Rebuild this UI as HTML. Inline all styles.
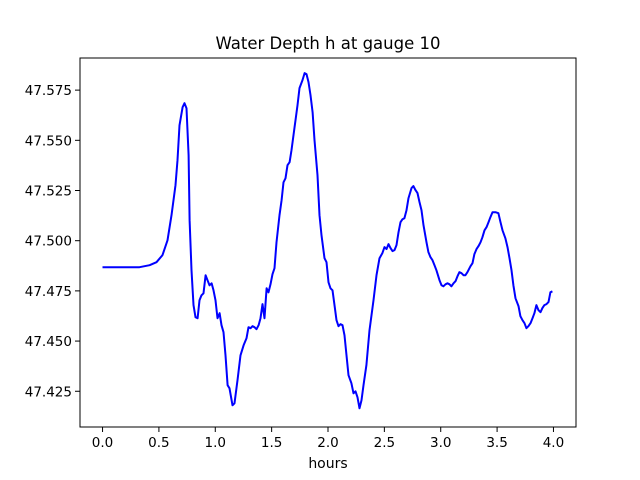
<!DOCTYPE html>
<html><head><meta charset="utf-8"><style>
body{margin:0;background:#fff;}
svg{display:block;font-family:"DejaVu Sans","Liberation Sans",sans-serif;}
</style></head><body>
<svg id="chart" width="640" height="480">
<rect width="640" height="480" fill="#fff"/>
<text x="328" y="49" text-anchor="middle" font-size="16.5">Water Depth h at gauge 10</text>
<g id="xticks"></g>
<g id="yticks"></g>
<path id="line" fill="none" stroke="#0000ff" stroke-width="2" stroke-linejoin="round"/>
<rect x="80" y="58" width="496" height="369" fill="none" stroke="#000" stroke-width="1"/>
<text x="328" y="468" text-anchor="middle" font-size="14">hours</text>
</svg>
<script>
const hours=[0,0.328,0.417,0.479,0.532,0.576,0.612,0.647,0.665,0.683,0.710,0.727,0.745,0.763,0.772,0.789,0.807,0.825,0.843,0.860,0.878,0.896,0.914,0.931,0.949,0.967,0.984,1.002,1.020,1.038,1.055,1.073,1.091,1.109,1.126,1.153,1.171,1.197,1.224,1.251,1.277,1.295,1.313,1.330,1.348,1.366,1.384,1.401,1.419,1.437,1.455,1.472,1.490,1.508,1.525,1.543,1.570,1.588,1.605,1.623,1.641,1.659,1.676,1.694,1.712,1.729,1.747,1.774,1.792,1.809,1.827,1.845,1.863,1.880,1.907,1.925,1.942,1.969,1.987,2.004,2.022,2.040,2.058,2.075,2.093,2.111,2.129,2.146,2.164,2.182,2.208,2.226,2.244,2.262,2.279,2.297,2.315,2.341,2.368,2.404,2.430,2.457,2.483,2.501,2.519,2.537,2.554,2.572,2.590,2.608,2.625,2.643,2.661,2.678,2.696,2.714,2.741,2.758,2.776,2.794,2.812,2.829,2.847,2.874,2.891,2.909,2.927,2.945,2.962,2.989,3.007,3.024,3.042,3.060,3.078,3.095,3.113,3.131,3.149,3.166,3.184,3.202,3.219,3.237,3.264,3.282,3.299,3.317,3.335,3.353,3.370,3.388,3.406,3.424,3.441,3.459,3.486,3.512,3.530,3.548,3.574,3.592,3.610,3.628,3.645,3.663,3.690,3.707,3.725,3.743,3.760,3.778,3.796,3.814,3.831,3.849,3.867,3.885,3.902,3.920,3.938,3.956,3.973,3.991];
const depth=[47.4868,47.4868,47.4878,47.4893,47.4928,47.5002,47.5127,47.5277,47.5401,47.5575,47.5665,47.5685,47.5660,47.5426,47.5102,47.4853,47.4679,47.4619,47.4614,47.4703,47.4728,47.4738,47.4828,47.4803,47.4778,47.4788,47.4753,47.4703,47.4614,47.4639,47.4579,47.4544,47.4429,47.4280,47.4265,47.4180,47.4190,47.4305,47.4429,47.4479,47.4514,47.4569,47.4564,47.4574,47.4569,47.4559,47.4579,47.4614,47.4684,47.4614,47.4763,47.4743,47.4783,47.4833,47.4863,47.4992,47.5127,47.5202,47.5291,47.5311,47.5376,47.5391,47.5451,47.5526,47.5600,47.5675,47.5760,47.5800,47.5835,47.5830,47.5790,47.5725,47.5640,47.5501,47.5326,47.5127,47.5027,47.4913,47.4893,47.4793,47.4763,47.4753,47.4679,47.4604,47.4574,47.4584,47.4579,47.4529,47.4429,47.4330,47.4290,47.4240,47.4250,47.4220,47.4165,47.4205,47.4280,47.4380,47.4554,47.4703,47.4828,47.4913,47.4938,47.4968,47.4958,47.4983,47.4963,47.4948,47.4953,47.4978,47.5042,47.5092,47.5107,47.5112,47.5152,47.5212,47.5262,47.5272,47.5252,47.5237,47.5192,47.5152,47.5077,47.4992,47.4943,47.4918,47.4903,47.4878,47.4853,47.4803,47.4778,47.4773,47.4783,47.4788,47.4783,47.4773,47.4788,47.4798,47.4823,47.4843,47.4838,47.4828,47.4828,47.4843,47.4873,47.4888,47.4933,47.4958,47.4973,47.4992,47.5017,47.5052,47.5067,47.5092,47.5117,47.5142,47.5142,47.5137,47.5092,47.5052,47.5012,47.4968,47.4913,47.4853,47.4778,47.4713,47.4674,47.4624,47.4604,47.4589,47.4564,47.4574,47.4589,47.4614,47.4639,47.4679,47.4654,47.4644,47.4664,47.4679,47.4684,47.4694,47.4743,47.4748];
const xTickLabels=["0.0","0.5","1.0","1.5","2.0","2.5","3.0","3.5","4.0"];
const yTickLabels=["47.425","47.450","47.475","47.500","47.525","47.550","47.575"];
const X0=80,X1=576,Y0=58,Y1=427;
const xmin=-0.2,xmax=4.2,ymin=47.4072,ymax=47.5910;
const sx=v=>X0+(v-xmin)/(xmax-xmin)*(X1-X0);
const sy=v=>Y1-(v-ymin)/(ymax-ymin)*(Y1-Y0);
const NS="http://www.w3.org/2000/svg";
const xg=document.getElementById('xticks'),yg=document.getElementById('yticks');
xTickLabels.forEach(l=>{const x=sx(parseFloat(l));
 const t=document.createElementNS(NS,'line');t.setAttribute('x1',x);t.setAttribute('x2',x);t.setAttribute('y1',Y1);t.setAttribute('y2',Y1+5);t.setAttribute('stroke','#000');
 
 
 xg.appendChild(t);
 const s=document.createElementNS(NS,'text');s.setAttribute('x',x);s.setAttribute('y',Y1+20);s.setAttribute('text-anchor','middle');s.setAttribute('font-size','13.5');s.textContent=l;
 
 
 xg.appendChild(s);});
yTickLabels.forEach(l=>{const y=sy(parseFloat(l));
 const t=document.createElementNS(NS,'line');t.setAttribute('x1',X0-5);t.setAttribute('x2',X0);t.setAttribute('y1',y);t.setAttribute('y2',y);t.setAttribute('stroke','#000');
 
 
 yg.appendChild(t);
 const s=document.createElementNS(NS,'text');s.setAttribute('x',X0-8);s.setAttribute('y',y+5);s.setAttribute('text-anchor','end');s.setAttribute('font-size','13.5');s.textContent=l;
 
 
 yg.appendChild(s);});
document.getElementById('line').setAttribute('d',hours.map((h,i)=>(i?'L':'M')+sx(h).toFixed(1)+','+sy(depth[i]).toFixed(1)).join(''));
</script>
</body></html>
